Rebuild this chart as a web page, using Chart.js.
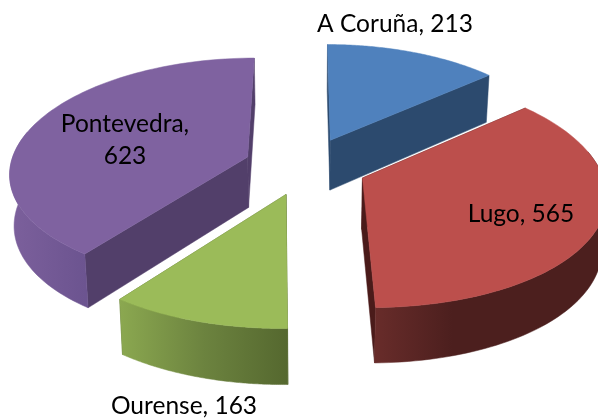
<!DOCTYPE html>
<html>
<head>
<meta charset="utf-8">
<style>html,body{margin:0;padding:0;background:#fff}#w{width:598px;height:419px;position:relative;overflow:hidden}canvas{filter:blur(0.4px)}</style>
<script src="https://cdn.jsdelivr.net/npm/chart.js@4/dist/chart.umd.min.js"></script>
</head>
<body>
<div id="w"><canvas id="c" width="598" height="419"></canvas></div>
<script>
const categories = ["A Coruña", "Lugo", "Ourense", "Pontevedra"];
const values = [213, 565, 163, 623];

const topColors = ["#4F81BD", "#BC4F4C", "#9BBB59", "#7F62A0"];
const radialWallColors = ["#2C4A6E", "#4A1B1A", "#55682F", "#523F6A"];
const outerWallStops = [
  ["#2C4A6E", "#2C4A6E"],
  ["#682C2A", "#4C1F1E", "#4C1F1E", "#4C1F1E"],
  ["#8BA850", "#6C833F", "#55682F"],
  ["#7C609C", "#6C5490"]
];
const labelLines = [
  [`${categories[0]}, ${values[0]}`],
  [`${categories[1]}, ${values[1]}`],
  [`${categories[2]}, ${values[2]}`],
  [`${categories[3]},`, `${values[3]}`]
];
const labelAnchors = [[395, 24], [521, 214], [184, 406], [125, 124]];

// projection of the flat pie disc onto the tilted plane
const view = {cx: 305.5, cy: 166, rx: 237.5, ry: 112, perspX: 0.13, perspY: 0.113};
function project(u, v) {
  return {x: view.cx + view.rx * u / (1 - view.perspX * v), y: view.cy + view.ry * v / (1 - view.perspY * v)};
}
function lower(p, v) {
  return {x: view.cx + (p.x - view.cx) * 0.985, y: p.y + 50.8 + 4.2 * v};
}

const pie3d = {
  id: 'pie3d',
  beforeDatasetsDraw(chart) {
    const ctx = chart.ctx;
    const els = chart.getDatasetMeta(0).data;
    [0, 3, 1, 2].forEach(i => {
      const el = els[i];
      const d = (el.options.offset / 4) / el.outerRadius;
      const mid = (el.startAngle + el.endAngle) / 2;
      const ou = Math.cos(mid) * d, ov = Math.sin(mid) * d;
      const apexV = ov;
      const apex = project(ou, ov);
      const arc = [];
      const n = 90;
      for (let k = 0; k <= n; k++) {
        const a = el.startAngle + (el.endAngle - el.startAngle) * k / n;
        const v = Math.sin(a) + ov;
        arc.push({p: project(Math.cos(a) + ou, v), v, front: Math.sin(a) > -0.25});
      }
      const poly = (pts, fill) => {
        ctx.beginPath();
        pts.forEach((q, j) => j ? ctx.lineTo(q.x, q.y) : ctx.moveTo(q.x, q.y));
        ctx.closePath();
        ctx.fillStyle = fill;
        ctx.fill();
        ctx.strokeStyle = fill;
        ctx.lineWidth = 0.5;
        ctx.stroke();
      };
      // radial walls
      [arc[0], arc[n]].forEach(e => {
        poly([apex, e.p, lower(e.p, e.v), lower(apex, apexV)], radialWallColors[i]);
      });
      // outer wall
      const vis = arc.filter(e => e.front);
      if (vis.length > 1) {
        const xs = vis.map(e => e.p.x);
        const x0 = Math.min(...xs), x1 = Math.max(...xs);
        const g = ctx.createLinearGradient(x0, 0, x1, 0);
        const stops = outerWallStops[i];
        stops.forEach((c, j) => g.addColorStop(j / (stops.length - 1), c));
        const top = vis.map(e => e.p);
        const bot = vis.slice().reverse().map(e => lower(e.p, e.v));
        poly(top.concat(bot), g);
      }
      // top surface
      poly([apex].concat(arc.map(e => e.p)), topColors[i]);
    });
    // labels
    ctx.fillStyle = '#000';
    ctx.font = '24.5px Lato, "Open Sans", sans-serif';
    ctx.textAlign = 'center';
    ctx.textBaseline = 'middle';
    labelLines.forEach((lines, i) => {
      lines.forEach((t, j) => ctx.fillText(t, labelAnchors[i][0], labelAnchors[i][1] + j * 32));
    });
    return false;
  }
};

new Chart(document.getElementById('c'), {
  type: 'pie',
  data: {
    labels: categories,
    datasets: [{data: values, backgroundColor: topColors, borderWidth: 0, offset: 143}]
  },
  options: {
    responsive: false,
    animation: false,
    plugins: {legend: {display: false}, tooltip: {enabled: false}}
  },
  plugins: [pie3d]
});
</script>
</body>
</html>
